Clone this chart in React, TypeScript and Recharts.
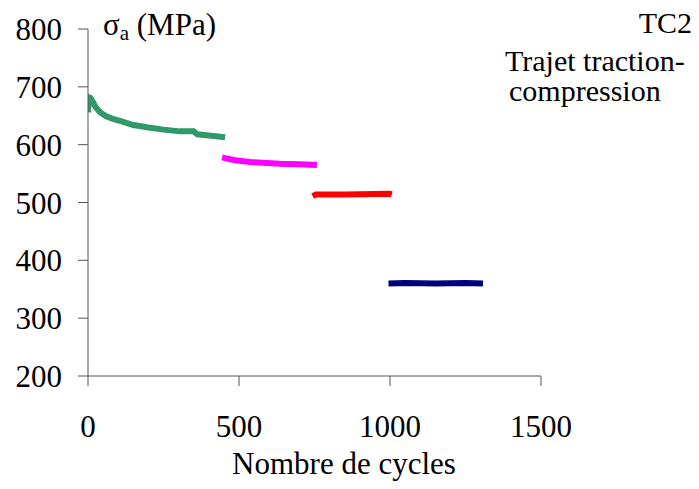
import React from "react";
import { LineChart, Line, XAxis, YAxis } from "recharts";

const greenCycles = [0, 3, 8, 15, 25, 40, 60, 80, 106, 150, 195, 250, 305, 350, 362, 400, 454];
const greenStress = [656, 682, 681, 675, 665, 656, 649, 645, 641, 634, 630, 626, 623, 623, 618, 616, 613];
const magentaCycles = [444, 460, 487, 536, 636, 700, 758];
const magentaStress = [578, 576, 573, 570, 567, 566, 565];
const redCycles = [744, 755, 850, 1000, 1006];
const redStress = [511, 514, 514, 515, 514];
const navyCycles = [995, 1050, 1150, 1250, 1308];
const navyStress = [360, 361, 360, 361, 360];

const xTicks = [0, 500, 1000, 1500];
const yTicks = [200, 300, 400, 500, 600, 700, 800];

const xLabel = "Nombre de cycles";
const titleLines = ["TC2", "Trajet traction-", "compression"];

const toRows = (xs: number[], ys: number[]) => xs.map((x, i) => ({ x, y: ys[i] }));

const FONT = "'Liberation Serif', 'Times New Roman', serif";

export default function App() {
  const tickStyle = { fill: "#000", fontSize: 31, fontFamily: FONT };
  return (
    <div style={{ position: "absolute", left: 0, top: 0, width: 699, height: 489, background: "#fff" }}>
      <LineChart
        width={699}
        height={489}
        margin={{ top: 29, right: 158, bottom: 53, left: 28 }}
      >
        <XAxis type="number" dataKey="x" domain={[0, 1500]} ticks={xTicks} allowDataOverflow stroke="#555" tickSize={10} tickMargin={29} height={60} tick={tickStyle} />
        <YAxis type="number" dataKey="y" domain={[200, 800]} ticks={yTicks} allowDataOverflow stroke="#555" tickSize={10} tickMargin={16} width={60} tick={tickStyle} />
        <Line data={toRows(greenCycles, greenStress)} dataKey="y" stroke="#2f9a68" strokeWidth={6} dot={false} isAnimationActive={false} type="linear" />
        <Line data={toRows(magentaCycles, magentaStress)} dataKey="y" stroke="#ff00ff" strokeWidth={6} dot={false} isAnimationActive={false} type="linear" />
        <Line data={toRows(redCycles, redStress)} dataKey="y" stroke="#ff0000" strokeWidth={6} dot={false} isAnimationActive={false} type="linear" />
        <Line data={toRows(navyCycles, navyStress)} dataKey="y" stroke="#000080" strokeWidth={6} dot={false} isAnimationActive={false} type="linear" />
      </LineChart>
      <svg width={699} height={489} style={{ position: "absolute", left: 0, top: 0, pointerEvents: "none" }}>
        <text x={103} y={35} fontFamily={FONT} fontSize={31} fill="#000">
          σ
          <tspan fontSize={21} dy={5}>a</tspan>
          <tspan dy={-5}> (MPa)</tspan>
        </text>
        <text x={692} y={33} textAnchor="end" fontFamily={FONT} fontSize={30} fill="#000">{titleLines[0]}</text>
        <text x={505} y={71} fontFamily={FONT} fontSize={30} fill="#000">{titleLines[1]}</text>
        <text x={509} y={101} fontFamily={FONT} fontSize={30} fill="#000">{titleLines[2]}</text>
        <text x={344} y={474} textAnchor="middle" fontFamily={FONT} fontSize={31} fill="#000">{xLabel}</text>
      </svg>
    </div>
  );
}
